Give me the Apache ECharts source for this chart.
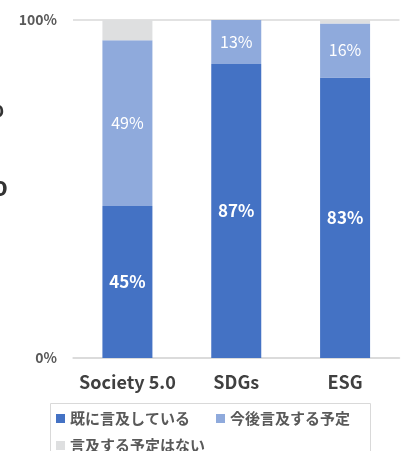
<!DOCTYPE html>
<html>
<head>
<meta charset="utf-8">
<script src="https://cdn.jsdelivr.net/npm/echarts@6/dist/echarts.min.js"></script>
<style>
  html, body { margin: 0; padding: 0; background: #fff; }
  #chart { width: 403px; height: 451px; }
</style>
</head>
<body>
<div id="chart"></div>
<script>
// Categories and stacked percentages
const categories = ['Society 5.0', 'SDGs', 'ESG'];
const seriesNames = ['既に言及している', '今後言及する予定', '言及する予定はない'];
const alreadyMentioned = [45, 87, 83];
const plannedMention = [49, 13, 16];
const noPlan = [6, 0, 1];
const yTicks = [0, 100];

const FONT = '"Noto Sans CJK JP", "Noto Sans", sans-serif';
const colors = ['#4472C4', '#8FAADC', '#DEDFE0'];

const chart = echarts.init(document.getElementById('chart'));

function segLabel(bold, size) {
  return {
    show: true,
    position: 'inside',
    color: '#ffffff',
    fontFamily: FONT,
    fontWeight: bold ? 'bold' : 'normal',
    fontSize: size,
    formatter: p => (p.value > 0 ? p.value + '%' : '')
  };
}

chart.setOption({
  animation: false,
  grid: { left: 73, right: 3.5, top: 20, bottom: 93, containLabel: false },
  xAxis: {
    type: 'category',
    data: categories,
    axisLine: { show: true, lineStyle: { color: '#d9d9d9', width: 1.5 } },
    axisTick: { show: false },
    axisLabel: {
      interval: 0,
      margin: 15,
      color: '#404040',
      fontFamily: FONT,
      fontWeight: 'bold',
      fontSize: 18
    }
  },
  yAxis: {
    type: 'value',
    min: yTicks[0],
    max: yTicks[yTicks.length - 1],
    interval: 100,
    axisLine: { show: false },
    axisTick: { show: false },
    splitLine: { lineStyle: { color: '#d9d9d9', width: 1.5 } },
    axisLabel: {
      margin: 16,
      color: '#595959',
      fontFamily: FONT,
      fontWeight: 'bold',
      fontSize: 14,
      formatter: v => v + '%'
    }
  },
  legend: {
    left: 56,
    top: 411,
    width: 320,
    padding: 0,
    itemGap: 12,
    itemWidth: 9,
    itemHeight: 9,
    icon: 'rect',
    data: seriesNames,
    textStyle: {
      color: '#595959',
      fontFamily: FONT,
      fontWeight: 'bold',
      fontSize: 15,
      lineHeight: 15,
      width: 134
    },
    itemStyle: { borderWidth: 0 }
  },
  graphic: [
    {
      type: 'rect',
      silent: true,
      shape: { x: 50.5, y: 403.5, width: 320, height: 70 },
      style: { fill: 'none', stroke: '#d9d9d9', lineWidth: 1 }
    },
    {
      type: 'text',
      silent: true,
      left: -21, top: 94,
      style: { text: '%', fontFamily: FONT, fontWeight: 'bold', fontSize: 26, fill: '#333333' }
    },
    {
      type: 'text',
      silent: true,
      left: -25, top: 166,
      style: { text: '%', fontFamily: FONT, fontWeight: 'bold', fontSize: 34, fill: '#333333' }
    }
  ],
  series: [
    {
      name: seriesNames[0], type: 'bar', stack: 'total', barWidth: 50,
      data: alreadyMentioned,
      itemStyle: { color: colors[0] },
      label: segLabel(true, 17)
    },
    {
      name: seriesNames[1], type: 'bar', stack: 'total', barWidth: 50,
      data: plannedMention,
      itemStyle: { color: colors[1] },
      label: segLabel(false, 16)
    },
    {
      name: seriesNames[2], type: 'bar', stack: 'total', barWidth: 50,
      data: noPlan,
      itemStyle: { color: colors[2] },
      label: { show: false }
    }
  ]
});
</script>
</body>
</html>
